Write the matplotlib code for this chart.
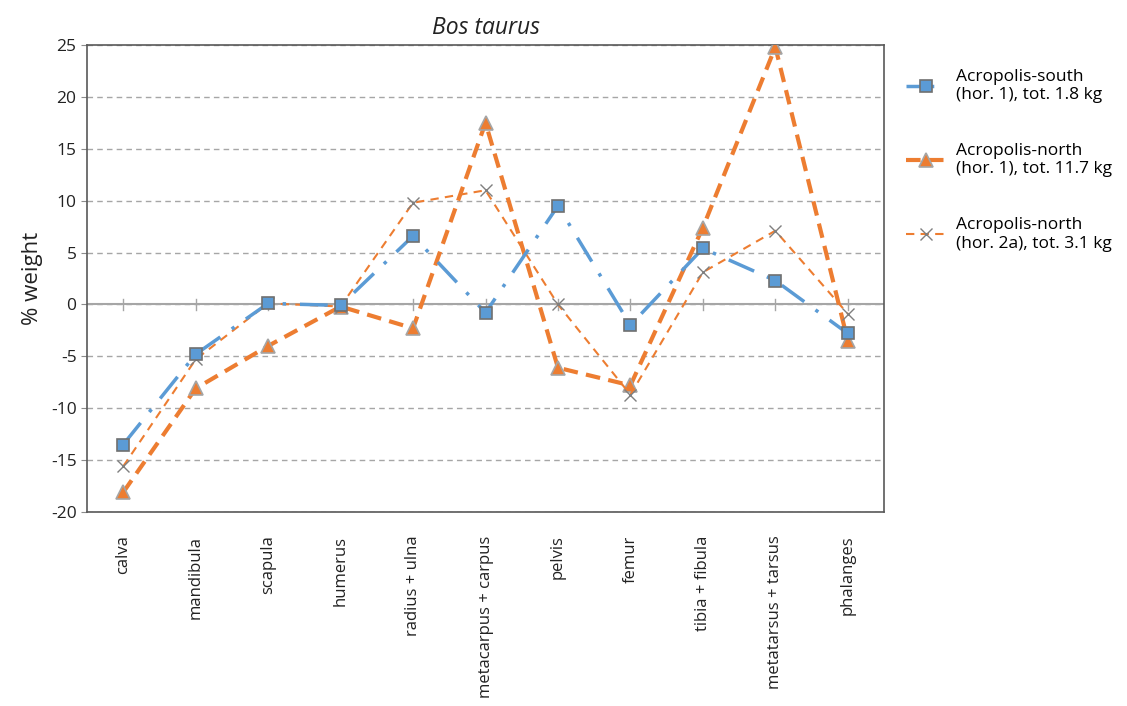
import numpy as np
import matplotlib.pyplot as plt

plt.rcParams['font.family'] = ['Open Sans', 'DejaVu Sans']
plt.rcParams['axes.unicode_minus'] = False

# Bone elements on the x axis
elements = ['calva', 'mandibula', 'scapula', 'humerus', 'radius + ulna',
            'metacarpus + carpus', 'pelvis', 'femur', 'tibia + fibula',
            'metatarsus + tarsus', 'phalanges']

# % weight deviation per element
south_h1 = [-13.5, -4.8, 0.1, -0.1, 6.6, -0.8, 9.5, -2.0, 5.4, 2.3, -2.8]
north_h1 = [-18.1, -8.1, -4.0, -0.2, -2.3, 17.5, -6.1, -7.8, 7.4, 24.8, -3.5]
north_h2a = [-15.6, -5.3, 0.1, -0.2, 9.8, 11.0, 0.0, -8.7, 3.1, 7.1, -0.9]

labels = ['Acropolis-south\n(hor. 1), tot. 1.8 kg',
          'Acropolis-north\n(hor. 1), tot. 11.7 kg',
          'Acropolis-north\n(hor. 2a), tot. 3.1 kg']

blue = '#5B9BD5'
orange = '#ED7D31'

fig = plt.figure(figsize=(11.27, 7.06), dpi=100)
ax = fig.add_axes([0.0772, 0.2748, 0.7072, 0.6615])

x = np.arange(len(elements))

ax.plot(x, south_h1, color=blue, lw=2.5, dashes=(8, 4, 1, 4),
        marker='s', ms=9, mfc=blue, mec='#707070', mew=1.2, label=labels[0], zorder=4)
ax.plot(x, north_h1, color=orange, lw=3, dashes=(3.5, 2),
        marker='^', ms=10, mfc=orange, mec='#a5a5a5', mew=1.2, label=labels[1], zorder=3)
ax.plot(x, north_h2a, color=orange, lw=1.5, dashes=(4, 3),
        marker='x', ms=8, mfc='none', mec='#7f7f7f', mew=1.0, label=labels[2], zorder=3)

ax.set_xlim(-0.5, len(elements) - 0.5)
ax.set_ylim(-20, 25)
ax.set_yticks(np.arange(-20, 26, 5))
ax.set_xticks(x)
ax.set_xticklabels(elements, rotation=90, fontsize=12, color='#222222')
ax.tick_params(axis='y', labelsize=12.5, colors='#222222', length=4, color='#8c8c8c')
ax.tick_params(axis='x', length=0, pad=17)

# gridlines and zero axis with small category ticks
ax.yaxis.grid(True, ls=(0, (4, 3)), color='#a6a6a6', lw=1)
ax.set_axisbelow(True)
ax.axhline(0, color='#a6a6a6', lw=1.5, zorder=1)
for xi in x:
    ax.plot([xi, xi], [-0.5, 0.5], color='#a6a6a6', lw=1, zorder=1)

for s in ax.spines.values():
    s.set_color('#595959')
    s.set_linewidth(1.2)

ax.set_ylabel('% weight', fontsize=16, color='#222222', labelpad=6)
ax.set_title('Bos taurus', fontstyle='italic', fontsize=16.5, color='#222222', pad=8)

fig.legend(loc='upper left', bbox_to_anchor=(0.79, 0.925), frameon=False,
           fontsize=12.5, labelspacing=2.3, handlelength=2.3, handletextpad=0.6)

fig.savefig('out.png', dpi=100)
